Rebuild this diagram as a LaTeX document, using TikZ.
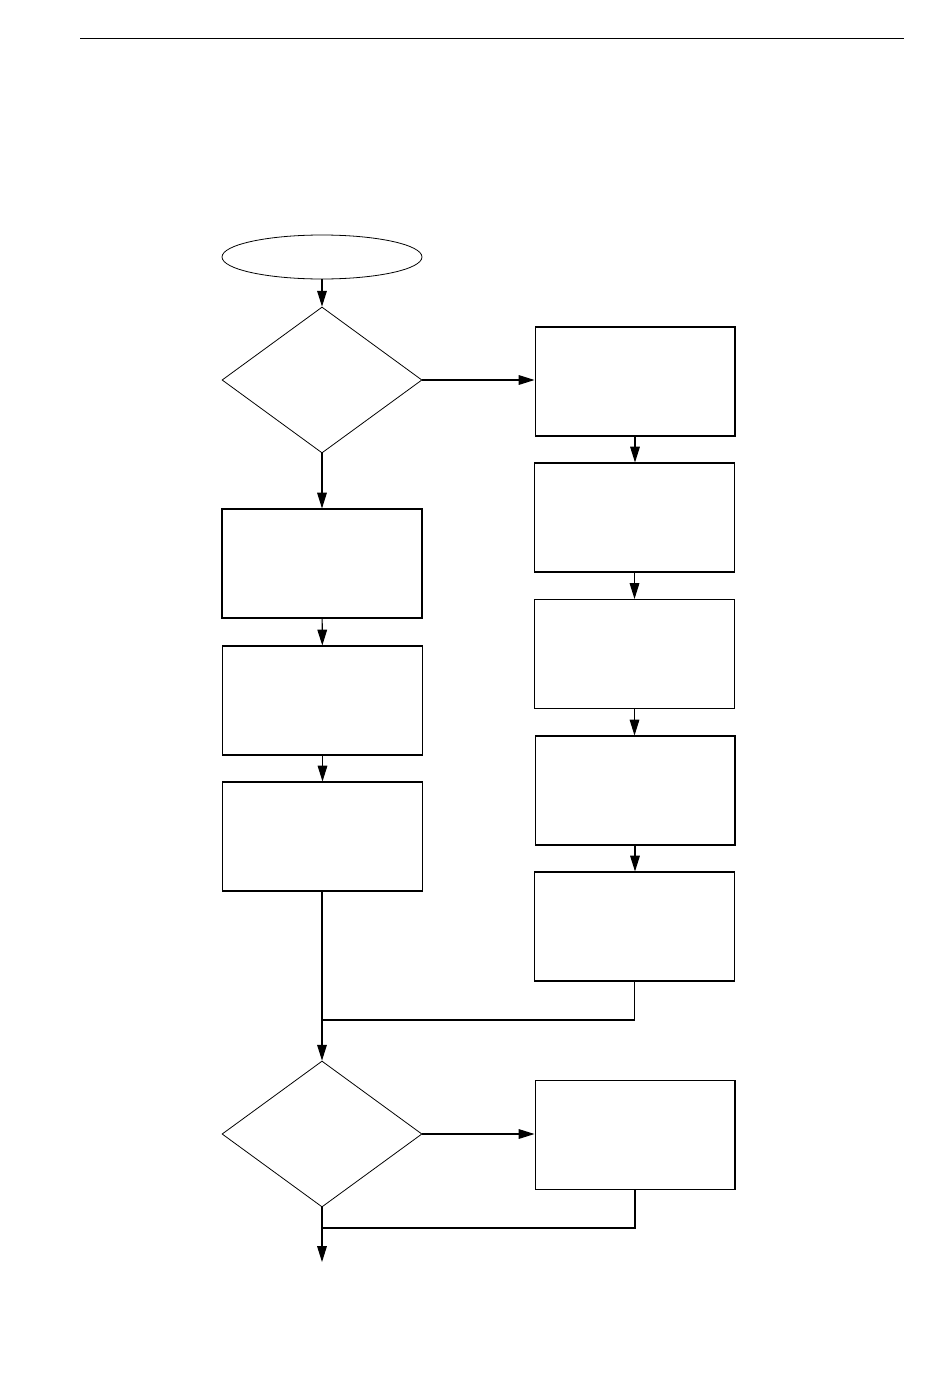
\documentclass[tikz,border=0pt]{standalone}
\usepackage{tikz}
\usetikzlibrary{shapes.geometric,arrows.meta}
\tikzstyle{every picture} = [x=0.02cm, y=-0.02cm, line width=0.6pt]
\tikzstyle{box} = [draw, rectangle, inner sep=0pt, minimum width=4cm, minimum height=2.18cm]
\tikzstyle{choice} = [draw, diamond, inner sep=0pt, minimum width=4cm, minimum height=2.92cm, line width=0.45pt]
\tikzstyle{flow} = [-{Triangle[length=9pt,width=5.5pt]}]

\begin{document}
\begin{tikzpicture}
            \useasboundingbox (0,0) rectangle (950,1399);
            \draw[line width=0.8pt] (80,38.5) -- (904,38.5);

            \node (start) at(322,257) [draw, ellipse, inner sep=0pt, minimum width=4cm, minimum height=0.88cm, line width=0.45pt] {};
            \node (choice 1) at(322,380) [choice] {};
            \node (left 1) at(322,563.5) [box] {};
            \node (left 2) at(322.5,700.5) [box] {};
            \node (left 3) at(322.5,836.5) [box] {};
            \node (right 1) at(635,381.5) [box] {};
            \node (right 2) at(634.5,517.5) [box] {};
            \node (right 3) at(634.5,654) [box] {};
            \node (right 4) at(635,790.5) [box] {};
            \node (right 5) at(634.5,926.5) [box] {};
            \node (choice 2) at(322,1134) [choice] {};
            \node (right 6) at(635,1135) [box] {};
            \coordinate (join 1) at(322,1020);
            \coordinate (join 2) at(322,1228);
            \coordinate (end) at(322,1262);

            \path 	(start) edge[flow] (choice 1)
            		(choice 1.east) edge[flow] (right 1.west |- choice 1.east)
            		(choice 1) edge[flow] (left 1)
            		(left 1) edge[flow] (left 2)
            		(left 2) edge[flow] (left 3)
            		(right 1) edge[flow] (right 1 |- right 2.north)
            		(right 2) edge[flow] (right 2 |- right 3.north)
            		(right 3) edge[flow] (right 3 |- right 4.north)
            		(right 4) edge[flow] (right 4 |- right 5.north)
            		(left 3.south -| join 1) edge[-] (join 1)
            		(join 1) edge[flow] (choice 2)
            		(choice 2.east) edge[flow] (right 6.west |- choice 2.east)
            		(choice 2) edge[flow] (end);
            \draw (right 5.south) |- (join 1);
            \draw (right 6.south) |- (join 2);

        \end{tikzpicture}
\end{document}
